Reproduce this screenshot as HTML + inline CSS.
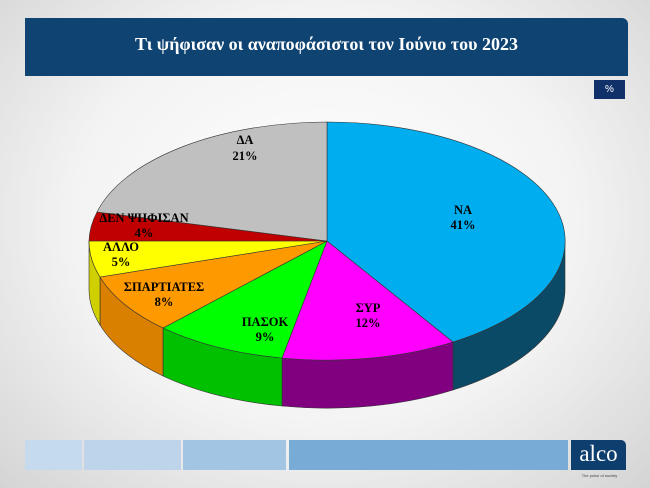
<!DOCTYPE html>
<html><head><meta charset="utf-8"><style>
body{margin:0;width:650px;height:488px;overflow:hidden;background:radial-gradient(ellipse at 50% 45%,#ffffff 0%,#f3f3f3 55%,#d4d4d4 100%);font-family:"Liberation Serif",serif;position:relative}
.t{position:absolute;left:25px;top:18px;width:603px;height:58px;background:#0E4372;border-top-right-radius:6px;color:#fff;font-weight:bold;font-size:18px;text-align:center;line-height:52px}
.p{position:absolute;left:594px;top:80px;width:31px;height:19px;background:#10306a;color:#fff;font-size:10px;text-align:center;line-height:19px;font-family:"Liberation Sans",sans-serif}
.b{position:absolute;top:440px;height:30px}
</style></head><body>
<div class="t">Τι ψήφισαν οι αναποφάσιστοι τον Ιούνιο του 2023</div>
<div class="p">%</div>
<svg width="650" height="488" style="position:absolute;left:0;top:0" font-family="Liberation Serif,serif" font-weight="bold" font-size="12.5" text-anchor="middle">
<g stroke="#333" stroke-width="0.6">
<path d="M565,241 A238,119 0 0 1 453,342 L453,390 A238,119 0 0 0 565,289 Z" fill="#0B4A66"/>
<path d="M453,342 A238,119 0 0 1 282,358 L282,406 A238,119 0 0 0 453,390 Z" fill="#800080"/>
<path d="M282,358 A238,119 0 0 1 163,328 L163,376 A238,119 0 0 0 282,406 Z" fill="#00C000"/>
<path d="M163,328 A238,119 0 0 1 100,277 L100,325 A238,119 0 0 0 163,376 Z" fill="#D98000"/>
<path d="M100,277 A238,119 0 0 1 89,241 L89,289 A238,119 0 0 0 100,325 Z" fill="#D0D000"/>
<path d="M327,241 L327,122 A238,119 0 0 1 453,342 Z" fill="#00AEEF"/>
<path d="M327,241 L453,342 A238,119 0 0 1 282,358 Z" fill="#FF00FF"/>
<path d="M327,241 L282,358 A238,119 0 0 1 163,328 Z" fill="#00FF00"/>
<path d="M327,241 L163,328 A238,119 0 0 1 100,277 Z" fill="#FF9900"/>
<path d="M327,241 L100,277 A238,119 0 0 1 89,241 Z" fill="#FFFF00"/>
<path d="M327,241 L89,241 A238,119 0 0 1 97,212 Z" fill="#C00000"/>
<path d="M327,241 L97,212 A238,119 0 0 1 327,122 Z" fill="#C0C0C0"/>
</g>
<text x="245" y="144">ΔΑ</text><text x="245" y="160">21%</text>
<text x="463" y="214">ΝΑ</text><text x="463" y="229">41%</text>
<text x="368" y="312">ΣΥΡ</text><text x="368" y="327">12%</text>
<text x="265" y="326">ΠΑΣΟΚ</text><text x="265" y="341">9%</text>
<text x="164" y="291">ΣΠΑΡΤΙΑΤΕΣ</text><text x="164" y="306">8%</text>
<text x="121" y="251">ΑΛΛΟ</text><text x="121" y="266">5%</text>
<text x="144" y="222">ΔΕΝ ΨΗΦΙΣΑΝ</text><text x="144" y="237">4%</text>
</svg>
<div class="b" style="left:25px;width:57px;background:#C5DAEC"></div>
<div class="b" style="left:84px;width:97px;background:#BDD4EA"></div>
<div class="b" style="left:183px;width:103px;background:#A2C5E4"></div>
<div class="b" style="left:289px;width:279px;background:#78ABD6"></div>
<div class="b" style="left:571px;width:55px;background:#0E3E6E;border-top-right-radius:5px;color:#fff;font-size:23px;text-align:center;line-height:28px">alco</div>
<div style="position:absolute;left:572px;top:473px;width:55px;font-size:4px;font-family:'Liberation Sans',sans-serif;color:#444;text-align:center">The pulse of society</div>
</body></html>
